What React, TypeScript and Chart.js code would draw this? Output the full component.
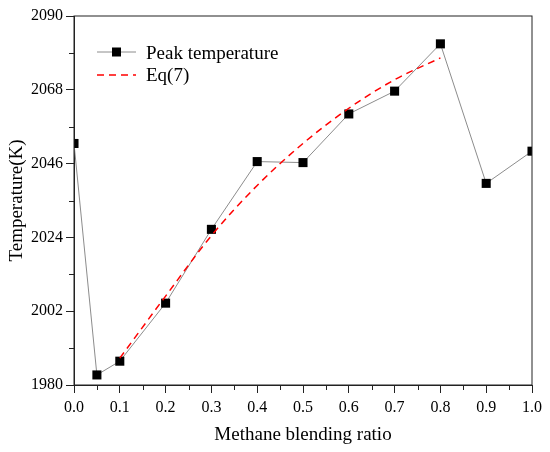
import { useEffect, useRef } from 'react';
import { Chart, registerables, Plugin } from 'chart.js';

Chart.register(...registerables);

// Peak temperature per methane blending ratio
const ratios = [0, 0.05, 0.1, 0.2, 0.3, 0.4, 0.5, 0.6, 0.7, 0.8, 0.9, 1.0];
const peakTemps = [2052.0, 1983.0, 1987.1, 2004.4, 2026.4, 2046.6, 2046.3, 2060.8, 2067.6, 2081.7, 2040.1, 2049.7];

// Eq(7) fitted curve
const eqRatios = [0.1, 0.2, 0.3, 0.4, 0.5, 0.6, 0.7, 0.8];
const eqTemps = [1988.0, 2006.5, 2024.5, 2039.5, 2052.0, 2062.5, 2071.0, 2077.5];

const yMinorTicks = [1991, 2013, 2035, 2057, 2079];
const xMinorTicks = [0.05, 0.15, 0.25, 0.35, 0.45, 0.55, 0.65, 0.75, 0.85, 0.95];

const FONT = '"Liberation Serif", "Times New Roman", serif';

// frame on top/right, minor ticks, and the legend box
const framePlugin: Plugin<'line'> = {
    id: 'frame',
    afterDraw(chart) {
        const { ctx, chartArea: a } = chart;
        const xs = chart.scales.x;
        const ys = chart.scales.y;
        ctx.save();
        ctx.strokeStyle = '#222';
        ctx.lineWidth = 1;
        ctx.strokeRect(a.left, a.top, a.right - a.left, a.bottom - a.top);

        ctx.beginPath();
        yMinorTicks.forEach(v => {
            const p = Math.round(ys.getPixelForValue(v)) + 0.5;
            ctx.moveTo(a.left - 5, p);
            ctx.lineTo(a.left, p);
        });
        xMinorTicks.forEach(v => {
            const p = Math.round(xs.getPixelForValue(v)) + 0.5;
            ctx.moveTo(p, a.bottom);
            ctx.lineTo(p, a.bottom + 5);
        });
        ctx.stroke();

        // legend
        const lx = a.left + 23;
        const ly = a.top + 36;
        ctx.strokeStyle = '#8c8c8c';
        ctx.beginPath();
        ctx.moveTo(lx, ly);
        ctx.lineTo(lx + 39, ly);
        ctx.stroke();
        ctx.fillStyle = '#000';
        ctx.fillRect(lx + 15, ly - 4.5, 9, 9);

        ctx.strokeStyle = '#ff0000';
        ctx.lineWidth = 1.5;
        ctx.setLineDash([7, 5]);
        ctx.beginPath();
        ctx.moveTo(lx, ly + 23);
        ctx.lineTo(lx + 39, ly + 23);
        ctx.stroke();
        ctx.setLineDash([]);

        ctx.fillStyle = '#000';
        ctx.font = `19px ${FONT}`;
        ctx.textBaseline = 'alphabetic';
        ctx.fillText(chart.data.datasets[0].label as string, lx + 49, ly + 7);
        ctx.fillText(chart.data.datasets[1].label as string, lx + 49, ly + 29);
        ctx.restore();
    }
};

export default function App() {
    const canvasRef = useRef<HTMLCanvasElement>(null);

    useEffect(() => {
        document.body.style.margin = '0';
        if (!canvasRef.current) return;
        const chart = new Chart(canvasRef.current, {
            type: 'line',
            data: {
                datasets: [
                    {
                        label: 'Peak temperature',
                        data: ratios.map((r, i) => ({ x: r, y: peakTemps[i] })),
                        borderColor: '#8c8c8c',
                        borderWidth: 1,
                        pointStyle: 'rect',
                        pointRadius: 6.4,
                        pointBackgroundColor: '#000',
                        pointBorderColor: '#000',
                        pointBorderWidth: 0,
                        clip: 0,
                        order: 1
                    },
                    {
                        label: 'Eq(7)',
                        data: eqRatios.map((r, i) => ({ x: r, y: eqTemps[i] })),
                        borderColor: '#ff0000',
                        borderWidth: 1.5,
                        borderDash: [7, 5],
                        pointRadius: 0,
                        tension: 0.4,
                        cubicInterpolationMode: 'monotone',
                        order: 0
                    }
                ]
            },
            options: {
                responsive: true,
                maintainAspectRatio: false,
                animation: false,
                layout: { padding: { top: 16, right: 18, left: 0, bottom: 0 } },
                plugins: {
                    legend: { display: false },
                    tooltip: { enabled: false }
                },
                scales: {
                    x: {
                        type: 'linear',
                        min: 0,
                        max: 1,
                        afterFit: (s) => { s.height = 67; },
                        ticks: {
                            stepSize: 0.1,
                            color: '#000',
                            padding: 5,
                            maxRotation: 0,
                            font: { family: FONT, size: 16 },
                            callback: (v) => Number(v).toFixed(1)
                        },
                        grid: { drawOnChartArea: false, tickLength: 8, tickColor: '#222' },
                        border: { color: '#222' },
                        title: {
                            display: true,
                            text: 'Methane blending ratio',
                            color: '#000',
                            font: { family: FONT, size: 19 },
                            padding: { top: 0, bottom: 6 }
                        }
                    },
                    y: {
                        min: 1980,
                        max: 2090,
                        afterFit: (s) => { s.width = 74; },
                        ticks: {
                            stepSize: 22,
                            color: '#000',
                            padding: 3,
                            font: { family: FONT, size: 16 },
                            callback: (v) => String(v)
                        },
                        grid: { drawOnChartArea: false, tickLength: 8, tickColor: '#222' },
                        border: { color: '#222' },
                        title: {
                            display: true,
                            text: 'Temperature(K)',
                            color: '#000',
                            font: { family: FONT, size: 19 },
                            padding: { top: 6, bottom: 0 }
                        }
                    }
                }
            },
            plugins: [framePlugin]
        });
        return () => chart.destroy();
    }, []);

    return (
        <div style={{ width: 550, height: 452, position: 'relative', background: '#fff' }}>
            <canvas ref={canvasRef}></canvas>
        </div>
    );
}
